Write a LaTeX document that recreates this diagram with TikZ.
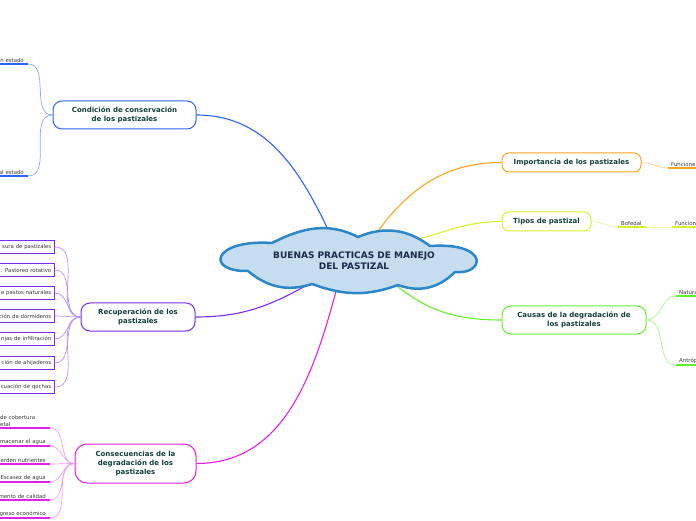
\documentclass[tikz,border=0pt]{standalone}
\usepackage{fontspec}
\setmainfont{DejaVu Sans}
\definecolor{cblue}{HTML}{2E62F6}
\definecolor{cbluel}{HTML}{8FA8FA}
\definecolor{cpurple}{HTML}{7B2CF2}
\definecolor{cpurplel}{HTML}{B994F7}
\definecolor{cmag}{HTML}{E51FE5}
\definecolor{cmagl}{HTML}{F29BF2}
\definecolor{corange}{HTML}{FFA41F}
\definecolor{corangel}{HTML}{FFCF90}
\definecolor{cyellow}{HTML}{D9F02B}
\definecolor{cyellowl}{HTML}{EAF7A0}
\definecolor{cgreen}{HTML}{63EE2F}
\definecolor{cgreenl}{HTML}{A9F48F}
\definecolor{cloudfill}{HTML}{C6DDF0}
\definecolor{cloudline}{HTML}{2B87C8}
\definecolor{txtgreen}{HTML}{12403A}
\definecolor{cloudtxt}{HTML}{1B2A4A}
\definecolor{leafgray}{HTML}{3A3A3A}
\tikzset{
  topic/.style={draw=#1, line width=1pt, fill=white, rounded corners=9pt, align=center,
    text=txtgreen, font=\fontsize{7}{9}\selectfont\bfseries, inner sep=0pt},
  link/.style={draw=#1, line width=1.1pt},
  sublink/.style={draw=#1, line width=0.7pt},
  uline/.style={draw=#1, line width=1.8pt},
  leaf/.style={font=\fontsize{5.4}{7}\selectfont, text=leafgray, inner xsep=4pt, inner ysep=1.5pt},
  leafbox/.style={draw=cpurple, line width=1.5pt, fill=white, font=\fontsize{5.4}{7}\selectfont,
    text=leafgray, text width=62pt, align=right, minimum height=13pt, inner xsep=3pt, inner ysep=0pt},
}

\begin{document}
\begin{tikzpicture}[x=1pt, y=1pt]
  \useasboundingbox (0,0) rectangle (696,520);
  \clip (0,0) rectangle (696,520);
  % main topics
  \node[topic=cblue, minimum width=143pt, minimum height=28pt] (cond) at (124.5,405) {Condición de conservación\\de los pastizales};
  \node[topic=cpurple, minimum width=114pt, minimum height=28pt] (recup) at (138,203) {Recuperación de los\\pastizales};
  \node[topic=cmag, minimum width=121pt, minimum height=39pt, rounded corners=12pt] (cons) at (135.5,56.5) {Consecuencias de la\\degradación de los\\pastizales};
  \node[topic=corange, minimum width=139pt, minimum height=19pt, rounded corners=7pt] (imp) at (571.5,357.5) {Importancia de los pastizales};
  \node[topic=cyellow, minimum width=89pt, minimum height=19pt, rounded corners=7pt] (tipos) at (546.5,298.5) {Tipos de pastizal};
  \node[topic=cgreen, minimum width=144pt, minimum height=28pt] (causas) at (574,200) {Causas de la degradación de\\los pastizales};
  % links from centre (they start under the cloud)
  \coordinate (sblue) at (332,282);
  \coordinate (spurple) at (316,240);
  \coordinate (smag) at (338,236);
  \coordinate (sorange) at (373,282);
  \coordinate (syellow) at (415,280);
  \coordinate (sgreen) at (392,238);
  \draw[link=cblue] (sblue) to[out=115, in=0] (cond.east);
  \draw[link=cpurple] (spurple) to[out=210, in=0] (recup.east);
  \draw[link=cmag] (smag) to[out=255, in=0] (cons.east);
  \draw[link=corange] (sorange) to[out=55, in=180] (imp.west);
  \draw[link=cyellow] (syellow) to[out=15, in=180] (tipos.west);
  \draw[link=cgreen] (sgreen) to[out=-40, in=180] (causas.west);
  % centre cloud
  \coordinate (cl1) at (272,277);
  \coordinate (cl2) at (358,283);
  \coordinate (cl3) at (430,274);
  \coordinate (cl4) at (455,248);
  \coordinate (cl5) at (398,235);
  \coordinate (cl6) at (312,236);
  \coordinate (cl7) at (248,249);
  \draw[draw=cloudline, fill=cloudfill, line width=2.5pt, line join=round]
    (cl1) to[out=27, in=153] (cl2) to[out=23, in=143] (cl3)
    .. controls (490,278) and (485,245) .. (cl4) to[out=225, in=-20] (cl5)
    to[out=200, in=-20] (cl6) to[out=198, in=-40] (cl7)
    .. controls (205,248) and (212,281) .. (cl1) -- cycle;
  \node[text=cloudtxt, align=center, font=\fontsize{9}{11}\selectfont\bfseries] (c) at (354,259) {BUENAS PRACTICAS DE MANEJO\\DEL PASTIZAL};
  % condicion
  \node[leaf, anchor=south east, text width=50pt, align=right] (ce1) at (28,456) {n estado};
  \node[leaf, anchor=south east, text width=50pt, align=right] (ce2) at (28,344) {al estado};
  \foreach \n in {ce1,ce2} {
    \draw[uline=cblue] (\n.south west) -- (\n.south east);
    \draw[sublink=cbluel] (cond.west) to[out=180, in=0] (\n.south east);
  }
  % recuperacion
  \foreach \y/\t [count=\i] in {273/sura de pastizales, 250/. Pastoreo rotativo, 227/e pastos naturales,
      204/ción de dormideros, 181/njas de infiltración, 157/ción de ahijaderos, 133/cuación de qochas} {
    \node[leafbox, anchor=east] (rb\i) at (55,\y) {\t};
    \draw[sublink=cpurplel] (recup.west) to[out=180, in=0] (rb\i.east);
  }
  % consecuencias
  \node[leaf, anchor=south west, text width=46pt, align=left] (cs1) at (-4,92) {de cobertura\\etal};
  \foreach \y/\t [count=\i from 2] in {74/macenar el agua, 56/erden nutrientes, 38/Escasez de agua,
      20/mento de calidad, 2/greso económico}
    \node[leaf, anchor=south east, text width=60pt, align=right] (cs\i) at (50,\y) {\t};
  \foreach \i in {1,...,6} {
    \draw[uline=cmag] (cs\i.south west) -- (cs\i.south east);
    \draw[sublink=cmagl] (cons.west) to[out=180, in=0] (cs\i.south east);
  }
  % importancia
  \node[leaf, anchor=south west, text width=40pt, align=left, inner xsep=3pt] (f1) at (668,352) {Funcione};
  \draw[uline=corange] (f1.south west) -- (f1.south east);
  \draw[sublink=corangel] (imp.east) to[out=0, in=180] (f1.south west);
  % tipos
  \node[leaf, anchor=south west, text width=22pt, align=left, inner xsep=3pt] (bof) at (618,293) {Bofedal};
  \node[leaf, anchor=south west, text width=40pt, align=left, inner xsep=3pt] (f2) at (672,293) {Funcion};
  \draw[uline=cyellow] (bof.south west) -- (bof.south east);
  \draw[uline=cyellow] (f2.south west) -- (f2.south east);
  \draw[sublink=cyellowl] (tipos.east) to[out=0, in=180] (bof.south west);
  \draw[sublink=cyellowl] (bof.south east) -- (f2.south west);
  % causas
  \node[leaf, anchor=south west, text width=40pt, align=left, inner xsep=3pt] (n1) at (676,224) {Natura};
  \node[leaf, anchor=south west, text width=40pt, align=left, inner xsep=3pt] (n2) at (676,155) {Antróp};
  \foreach \n in {n1,n2} {
    \draw[uline=cgreen] (\n.south west) -- (\n.south east);
    \draw[sublink=cgreenl] (causas.east) to[out=0, in=180] (\n.south west);
  }
\end{tikzpicture}
\end{document}
